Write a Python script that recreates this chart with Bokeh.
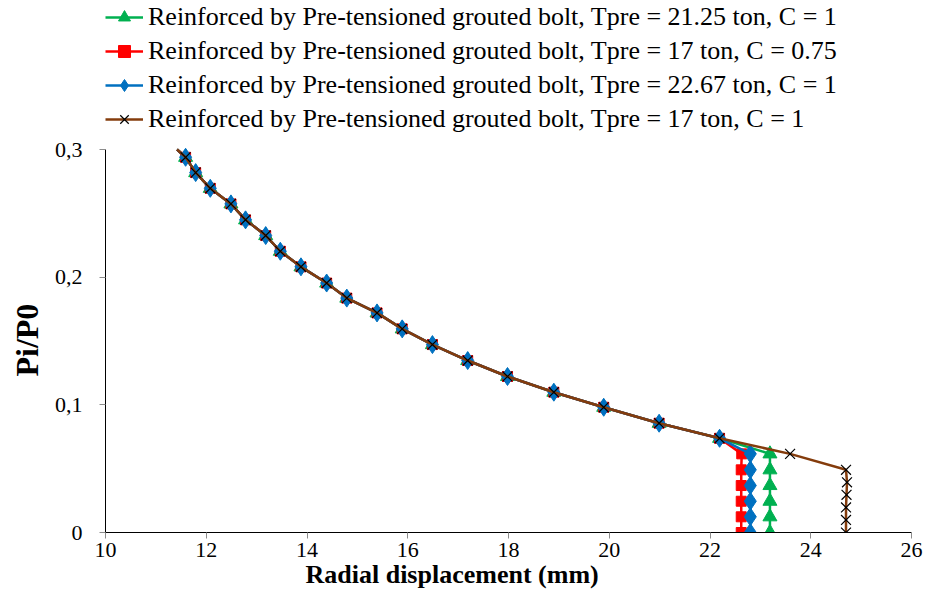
from bokeh.plotting import figure
from bokeh.models import (Legend, LegendItem, FixedTicker, Title, Range1d)
from bokeh.embed import file_html
from bokeh.resources import INLINE

# ---- data ----
# where the curve leaves the top of the plot (no marker there)
line_start_x = [11.42]
line_start_y = [0.300]
# marked points shared by all four series
common_x = [11.59, 11.79, 12.08, 12.49, 12.78, 13.18, 13.47, 13.88, 14.39,
            14.79, 15.39, 15.89, 16.49, 17.19, 17.98, 18.90, 19.89, 20.99, 22.19]
common_y = [0.2939, 0.2819, 0.2696, 0.2574, 0.2449, 0.2326, 0.2203, 0.2081, 0.1954,
            0.1836, 0.1720, 0.1595, 0.1472, 0.1347, 0.1222, 0.1099, 0.0981, 0.0856, 0.0738]

tail_y = [0.0616, 0.0491, 0.0368, 0.0245, 0.0123, 0.0]
green_tail_x = [23.19, 23.19, 23.19, 23.19, 23.19, 23.19]
red_tail_x = [22.63, 22.62, 22.62, 22.62, 22.62, 22.62]
blue_tail_x = [22.80, 22.80, 22.80, 22.80, 22.80, 22.80]
brown_tail_x = [23.59, 24.70, 24.72, 24.71, 24.70, 24.70, 24.70]
brown_tail_y = [0.0616, 0.0491, 0.0393, 0.0295, 0.0196, 0.0098, 0.0]

labels = [
    "Reinforced by Pre-tensioned grouted bolt, Tpre = 21.25 ton, C = 1",
    "Reinforced by Pre-tensioned grouted bolt, Tpre = 17 ton, C = 0.75",
    "Reinforced by Pre-tensioned grouted bolt, Tpre = 22.67 ton, C = 1",
    "Reinforced by Pre-tensioned grouted bolt, Tpre = 17 ton, C = 1",
]
x_ticks = [10, 12, 14, 16, 18, 20, 22, 24, 26]
y_ticks = [0, 0.1, 0.2, 0.3]
y_tick_labels = ["0", "0,1", "0,2", "0,3"]
x_title = "Radial displacement (mm)"
y_title = "Pi/P0"

SERIF = "Liberation Serif, serif"

# The frame reaches the top of the canvas so the legend (drawn inside it) is not clipped;
# the y range is extended above 0.3 and the y axis line is bounded to 0..0.3.
Y_TOP = 0.3 * 532 / 383
p = figure(frame_width=806, frame_height=532, output_backend="svg", toolbar_location=None,
           x_range=Range1d(10, 26), y_range=Range1d(0, Y_TOP),
           min_border_left=105, min_border_right=12, min_border_top=0, min_border_bottom=0)
p.outline_line_color = None
p.xgrid.visible = False
p.ygrid.visible = False

series = [
    ("#00B050", "triangle", 14, green_tail_x, tail_y),
    ("#FF0000", "square", 10, red_tail_x, tail_y),
    ("#0070C0", "diamond", 18, blue_tail_x, tail_y),
    ("#843C0C", "x", 14, brown_tail_x, brown_tail_y),
]

items = []
for (color, marker, size, tx, ty), lab in zip(series, labels):
    mx = common_x + tx
    my = common_y + ty
    r_line = p.line(line_start_x + mx, line_start_y + my, line_color=color, line_width=2.5)
    if marker == "x":
        r_m = p.scatter(mx, my, marker="x", size=size, line_color="black", line_width=1.2)
    else:
        r_m = p.scatter(mx, my, marker=marker, size=size, fill_color=color, line_color=color)
    items.append(LegendItem(label=lab, renderers=[r_line, r_m]))

legend = Legend(items=items, location=(0, 398), padding=0, margin=0,
                glyph_width=38, glyph_height=30, label_height=30, spacing=4,
                label_standoff=5, label_text_font=SERIF, label_text_font_size="26px",
                label_text_color="black", background_fill_alpha=0, border_line_color=None)
p.add_layout(legend, "center")

# axes
p.xaxis.ticker = FixedTicker(ticks=x_ticks)
p.yaxis.ticker = FixedTicker(ticks=y_ticks)
p.yaxis.bounds = (0, 0.3)
p.yaxis.major_label_overrides = {t: s for t, s in zip(y_ticks, y_tick_labels)}
for ax in (p.xaxis[0], p.yaxis[0]):
    ax.axis_line_color = "black"
    ax.axis_line_width = 1
    ax.major_tick_line_color = "#8c8c8c"
    ax.major_tick_out = 6
    ax.major_tick_in = 0
    ax.minor_tick_line_color = None
    ax.major_label_text_font = SERIF
    ax.major_label_text_font_size = "22px"
    ax.major_label_text_color = "black"
p.xaxis.major_label_standoff = 4
p.yaxis.major_label_standoff = 17

# y title centred on the 0..0.3 part of the axis (Title on the left, shifted up from the bottom)
p.add_layout(Title(text=y_title, align="left", offset=156, standoff=13,
                   text_font=SERIF, text_font_style="bold", text_font_size="32px",
                   text_color="black"), "left")
p.add_layout(Title(text=x_title, align="left", offset=200, standoff=0, vertical_align="top",
                   text_font=SERIF, text_font_style="bold", text_font_size="26px",
                   text_color="black"), "below")

open("out.html", "w").write(file_html(p, INLINE))
